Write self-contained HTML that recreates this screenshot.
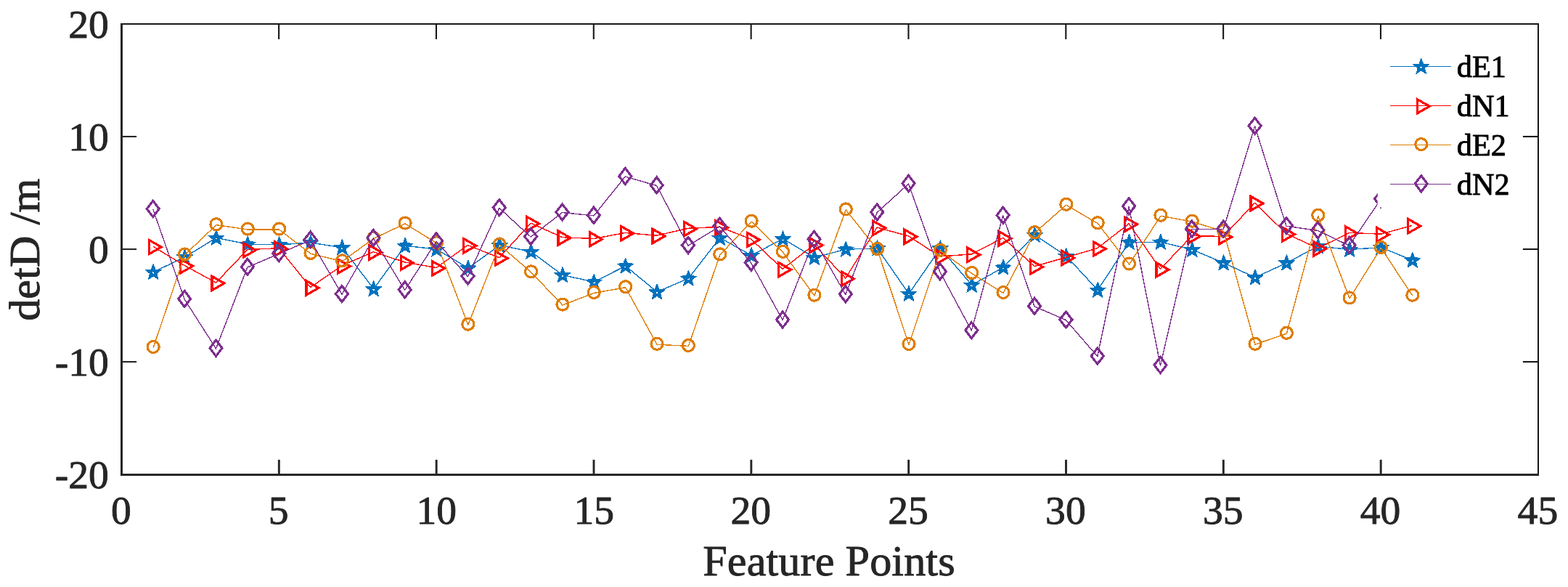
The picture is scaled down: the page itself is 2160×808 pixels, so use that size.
<!DOCTYPE html>
<html lang="en">
<head>
<meta charset="utf-8">
<title>Feature Points - detD /m</title>
<style>
html,body{margin:0;padding:0;background:#fff;}
body{width:2160px;height:808px;overflow:hidden;}
svg{display:block;}
text{font-family:"Liberation Serif","Times New Roman",Times,serif;}
.tick{font-size:55.6px;fill:#262626;stroke:#262626;stroke-width:0.9px;stroke-linejoin:round;}
.lab{font-size:60.2px;fill:#262626;stroke:#262626;stroke-width:0.9px;stroke-linejoin:round;letter-spacing:0.1px;}
.leg{font-size:42.3px;fill:#000;stroke:#000;stroke-width:0.9px;stroke-linejoin:round;}
</style>
</head>
<body>
<svg width="2160" height="808" viewBox="0 0 2160 808">
<rect x="0" y="0" width="2160" height="808" fill="#fff"/>
<g id="data">
<g id="dE1"><path d="M211.17 374.45 L254.53 353.99 L297.90 327.33 L341.27 336.16 L384.63 336.78 L428.00 334.15 L471.37 340.66 L514.73 397.70 L558.10 338.18 L601.47 343.14 L644.83 369.02 L688.20 337.71 L731.57 346.39 L774.93 378.63 L818.30 388.09 L861.67 366.08 L905.03 401.88 L948.40 383.13 L991.77 327.33 L1035.13 351.51 L1078.50 328.72 L1121.87 354.45 L1165.23 343.14 L1208.60 341.90 L1251.97 404.37 L1295.33 341.90 L1338.70 392.27 L1382.07 368.09 L1425.43 323.30 L1468.80 352.44 L1512.17 399.25 L1555.53 333.22 L1598.90 333.22 L1642.27 343.60 L1685.63 361.89 L1729.00 381.89 L1772.37 361.89 L1815.73 338.95 L1859.10 343.45 L1902.47 340.66 L1945.83 358.17" fill="none" stroke="#0072BD" stroke-width="1.4" stroke-linejoin="round" shape-rendering="crispEdges"/><path d="M211.17 363.45 L214.05 371.09 L222.20 371.47 L215.83 376.56 L217.98 384.43 L211.17 379.95 L204.35 384.43 L206.51 376.56 L200.13 371.47 L208.29 371.09 Z M209.27 375.25 a1.9 1.9 0 1 0 3.8 0 a1.9 1.9 0 1 0 -3.8 0 Z M254.53 342.99 L257.41 350.63 L265.57 351.01 L259.19 356.10 L261.35 363.97 L254.53 359.49 L247.72 363.97 L249.87 356.10 L243.50 351.01 L251.65 350.63 Z M252.63 354.79 a1.9 1.9 0 1 0 3.8 0 a1.9 1.9 0 1 0 -3.8 0 Z M297.90 316.33 L300.78 323.97 L308.93 324.35 L302.56 329.44 L304.72 337.31 L297.90 332.83 L291.08 337.31 L293.24 329.44 L286.87 324.35 L295.02 323.97 Z M296.00 328.13 a1.9 1.9 0 1 0 3.8 0 a1.9 1.9 0 1 0 -3.8 0 Z M341.27 325.16 L344.15 332.80 L352.30 333.18 L345.93 338.28 L348.08 346.15 L341.27 341.66 L334.45 346.15 L336.61 338.28 L330.23 333.18 L338.39 332.80 Z M339.37 336.96 a1.9 1.9 0 1 0 3.8 0 a1.9 1.9 0 1 0 -3.8 0 Z M384.63 325.78 L387.51 333.42 L395.67 333.80 L389.29 338.90 L391.45 346.77 L384.63 342.28 L377.82 346.77 L379.97 338.90 L373.60 333.80 L381.75 333.42 Z M382.73 337.58 a1.9 1.9 0 1 0 3.8 0 a1.9 1.9 0 1 0 -3.8 0 Z M428.00 323.15 L430.88 330.79 L439.03 331.17 L432.66 336.26 L434.82 344.13 L428.00 339.65 L421.18 344.13 L423.34 336.26 L416.97 331.17 L425.12 330.79 Z M426.10 334.95 a1.9 1.9 0 1 0 3.8 0 a1.9 1.9 0 1 0 -3.8 0 Z M471.37 329.66 L474.25 337.30 L482.40 337.68 L476.03 342.77 L478.18 350.64 L471.37 346.16 L464.55 350.64 L466.71 342.77 L460.33 337.68 L468.49 337.30 Z M469.47 341.46 a1.9 1.9 0 1 0 3.8 0 a1.9 1.9 0 1 0 -3.8 0 Z M514.73 386.70 L517.61 394.34 L525.77 394.72 L519.39 399.81 L521.55 407.68 L514.73 403.20 L507.92 407.68 L510.07 399.81 L503.70 394.72 L511.85 394.34 Z M512.83 398.50 a1.9 1.9 0 1 0 3.8 0 a1.9 1.9 0 1 0 -3.8 0 Z M558.10 327.18 L560.98 334.82 L569.13 335.20 L562.76 340.29 L564.92 348.16 L558.10 343.68 L551.28 348.16 L553.44 340.29 L547.07 335.20 L555.22 334.82 Z M556.20 338.98 a1.9 1.9 0 1 0 3.8 0 a1.9 1.9 0 1 0 -3.8 0 Z M601.47 332.14 L604.35 339.78 L612.50 340.16 L606.13 345.25 L608.28 353.12 L601.47 348.64 L594.65 353.12 L596.81 345.25 L590.43 340.16 L598.59 339.78 Z M599.57 343.94 a1.9 1.9 0 1 0 3.8 0 a1.9 1.9 0 1 0 -3.8 0 Z M644.83 358.02 L647.71 365.66 L655.87 366.04 L649.49 371.14 L651.65 379.01 L644.83 374.52 L638.02 379.01 L640.17 371.14 L633.80 366.04 L641.95 365.66 Z M642.93 369.82 a1.9 1.9 0 1 0 3.8 0 a1.9 1.9 0 1 0 -3.8 0 Z M688.20 326.71 L691.08 334.35 L699.23 334.73 L692.86 339.83 L695.02 347.70 L688.20 343.21 L681.38 347.70 L683.54 339.83 L677.17 334.73 L685.32 334.35 Z M686.30 338.51 a1.9 1.9 0 1 0 3.8 0 a1.9 1.9 0 1 0 -3.8 0 Z M731.57 335.39 L734.45 343.03 L742.60 343.41 L736.23 348.51 L738.38 356.38 L731.57 351.89 L724.75 356.38 L726.91 348.51 L720.53 343.41 L728.69 343.03 Z M729.67 347.19 a1.9 1.9 0 1 0 3.8 0 a1.9 1.9 0 1 0 -3.8 0 Z M774.93 367.63 L777.81 375.27 L785.97 375.65 L779.59 380.75 L781.75 388.62 L774.93 384.13 L768.12 388.62 L770.27 380.75 L763.90 375.65 L772.05 375.27 Z M773.03 379.44 a1.9 1.9 0 1 0 3.8 0 a1.9 1.9 0 1 0 -3.8 0 Z M818.30 377.09 L821.18 384.73 L829.33 385.11 L822.96 390.20 L825.12 398.07 L818.30 393.59 L811.48 398.07 L813.64 390.20 L807.27 385.11 L815.42 384.73 Z M816.40 388.89 a1.9 1.9 0 1 0 3.8 0 a1.9 1.9 0 1 0 -3.8 0 Z M861.67 355.08 L864.55 362.72 L872.70 363.10 L866.33 368.19 L868.48 376.06 L861.67 371.58 L854.85 376.06 L857.01 368.19 L850.63 363.10 L858.79 362.72 Z M859.77 366.88 a1.9 1.9 0 1 0 3.8 0 a1.9 1.9 0 1 0 -3.8 0 Z M905.03 390.88 L907.91 398.52 L916.07 398.90 L909.69 404.00 L911.85 411.87 L905.03 407.38 L898.22 411.87 L900.37 404.00 L894.00 398.90 L902.15 398.52 Z M903.13 402.69 a1.9 1.9 0 1 0 3.8 0 a1.9 1.9 0 1 0 -3.8 0 Z M948.40 372.13 L951.28 379.77 L959.43 380.15 L953.06 385.24 L955.22 393.11 L948.40 388.63 L941.58 393.11 L943.74 385.24 L937.37 380.15 L945.52 379.77 Z M946.50 383.93 a1.9 1.9 0 1 0 3.8 0 a1.9 1.9 0 1 0 -3.8 0 Z M991.77 316.33 L994.65 323.97 L1002.80 324.35 L996.43 329.44 L998.58 337.31 L991.77 332.83 L984.95 337.31 L987.11 329.44 L980.73 324.35 L988.89 323.97 Z M989.87 328.13 a1.9 1.9 0 1 0 3.8 0 a1.9 1.9 0 1 0 -3.8 0 Z M1035.13 340.51 L1038.01 348.15 L1046.17 348.53 L1039.79 353.62 L1041.95 361.49 L1035.13 357.01 L1028.32 361.49 L1030.47 353.62 L1024.10 348.53 L1032.25 348.15 Z M1033.23 352.31 a1.9 1.9 0 1 0 3.8 0 a1.9 1.9 0 1 0 -3.8 0 Z M1078.50 317.72 L1081.38 325.36 L1089.53 325.74 L1083.16 330.84 L1085.32 338.71 L1078.50 334.22 L1071.68 338.71 L1073.84 330.84 L1067.47 325.74 L1075.62 325.36 Z M1076.60 329.52 a1.9 1.9 0 1 0 3.8 0 a1.9 1.9 0 1 0 -3.8 0 Z M1121.87 343.45 L1124.75 351.09 L1132.90 351.47 L1126.53 356.57 L1128.68 364.44 L1121.87 359.95 L1115.05 364.44 L1117.21 356.57 L1110.83 351.47 L1118.99 351.09 Z M1119.97 355.25 a1.9 1.9 0 1 0 3.8 0 a1.9 1.9 0 1 0 -3.8 0 Z M1165.23 332.14 L1168.11 339.78 L1176.27 340.16 L1169.89 345.25 L1172.05 353.12 L1165.23 348.64 L1158.42 353.12 L1160.57 345.25 L1154.20 340.16 L1162.35 339.78 Z M1163.33 343.94 a1.9 1.9 0 1 0 3.8 0 a1.9 1.9 0 1 0 -3.8 0 Z M1208.60 330.90 L1211.48 338.54 L1219.63 338.92 L1213.26 344.01 L1215.42 351.88 L1208.60 347.40 L1201.78 351.88 L1203.94 344.01 L1197.57 338.92 L1205.72 338.54 Z M1206.70 342.70 a1.9 1.9 0 1 0 3.8 0 a1.9 1.9 0 1 0 -3.8 0 Z M1251.97 393.37 L1254.85 401.00 L1263.00 401.38 L1256.63 406.48 L1258.78 414.35 L1251.97 409.87 L1245.15 414.35 L1247.31 406.48 L1240.93 401.38 L1249.09 401.00 Z M1250.07 405.17 a1.9 1.9 0 1 0 3.8 0 a1.9 1.9 0 1 0 -3.8 0 Z M1295.33 330.90 L1298.21 338.54 L1306.37 338.92 L1299.99 344.01 L1302.15 351.88 L1295.33 347.40 L1288.52 351.88 L1290.67 344.01 L1284.30 338.92 L1292.45 338.54 Z M1293.43 342.70 a1.9 1.9 0 1 0 3.8 0 a1.9 1.9 0 1 0 -3.8 0 Z M1338.70 381.27 L1341.58 388.91 L1349.73 389.29 L1343.36 394.39 L1345.52 402.26 L1338.70 397.77 L1331.88 402.26 L1334.04 394.39 L1327.67 389.29 L1335.82 388.91 Z M1336.80 393.07 a1.9 1.9 0 1 0 3.8 0 a1.9 1.9 0 1 0 -3.8 0 Z M1382.07 357.09 L1384.95 364.73 L1393.10 365.11 L1386.73 370.21 L1388.88 378.08 L1382.07 373.59 L1375.25 378.08 L1377.41 370.21 L1371.03 365.11 L1379.19 364.73 Z M1380.17 368.89 a1.9 1.9 0 1 0 3.8 0 a1.9 1.9 0 1 0 -3.8 0 Z M1425.43 312.30 L1428.31 319.94 L1436.47 320.32 L1430.09 325.41 L1432.25 333.28 L1425.43 328.80 L1418.62 333.28 L1420.77 325.41 L1414.40 320.32 L1422.55 319.94 Z M1423.53 324.10 a1.9 1.9 0 1 0 3.8 0 a1.9 1.9 0 1 0 -3.8 0 Z M1468.80 341.44 L1471.68 349.08 L1479.83 349.46 L1473.46 354.55 L1475.62 362.42 L1468.80 357.94 L1461.98 362.42 L1464.14 354.55 L1457.77 349.46 L1465.92 349.08 Z M1466.90 353.24 a1.9 1.9 0 1 0 3.8 0 a1.9 1.9 0 1 0 -3.8 0 Z M1512.17 388.25 L1515.05 395.89 L1523.20 396.27 L1516.83 401.36 L1518.98 409.23 L1512.17 404.75 L1505.35 409.23 L1507.51 401.36 L1501.13 396.27 L1509.29 395.89 Z M1510.27 400.05 a1.9 1.9 0 1 0 3.8 0 a1.9 1.9 0 1 0 -3.8 0 Z M1555.53 322.22 L1558.41 329.86 L1566.57 330.24 L1560.19 335.33 L1562.35 343.20 L1555.53 338.72 L1548.72 343.20 L1550.87 335.33 L1544.50 330.24 L1552.65 329.86 Z M1553.63 334.02 a1.9 1.9 0 1 0 3.8 0 a1.9 1.9 0 1 0 -3.8 0 Z M1598.90 322.22 L1601.78 329.86 L1609.93 330.24 L1603.56 335.33 L1605.72 343.20 L1598.90 338.72 L1592.08 343.20 L1594.24 335.33 L1587.87 330.24 L1596.02 329.86 Z M1597.00 334.02 a1.9 1.9 0 1 0 3.8 0 a1.9 1.9 0 1 0 -3.8 0 Z M1642.27 332.60 L1645.15 340.24 L1653.30 340.62 L1646.93 345.72 L1649.08 353.59 L1642.27 349.10 L1635.45 353.59 L1637.61 345.72 L1631.23 340.62 L1639.39 340.24 Z M1640.37 344.40 a1.9 1.9 0 1 0 3.8 0 a1.9 1.9 0 1 0 -3.8 0 Z M1685.63 350.89 L1688.51 358.53 L1696.67 358.91 L1690.29 364.01 L1692.45 371.88 L1685.63 367.39 L1678.82 371.88 L1680.97 364.01 L1674.60 358.91 L1682.75 358.53 Z M1683.73 362.69 a1.9 1.9 0 1 0 3.8 0 a1.9 1.9 0 1 0 -3.8 0 Z M1729.00 370.89 L1731.88 378.53 L1740.03 378.91 L1733.66 384.00 L1735.82 391.87 L1729.00 387.39 L1722.18 391.87 L1724.34 384.00 L1717.97 378.91 L1726.12 378.53 Z M1727.10 382.69 a1.9 1.9 0 1 0 3.8 0 a1.9 1.9 0 1 0 -3.8 0 Z M1772.37 350.89 L1775.25 358.53 L1783.40 358.91 L1777.03 364.01 L1779.18 371.88 L1772.37 367.39 L1765.55 371.88 L1767.71 364.01 L1761.33 358.91 L1769.49 358.53 Z M1770.47 362.69 a1.9 1.9 0 1 0 3.8 0 a1.9 1.9 0 1 0 -3.8 0 Z M1815.73 327.95 L1818.61 335.59 L1826.77 335.97 L1820.39 341.07 L1822.55 348.94 L1815.73 344.45 L1808.92 348.94 L1811.07 341.07 L1804.70 335.97 L1812.85 335.59 Z M1813.83 339.75 a1.9 1.9 0 1 0 3.8 0 a1.9 1.9 0 1 0 -3.8 0 Z M1859.10 332.45 L1861.98 340.09 L1870.13 340.47 L1863.76 345.56 L1865.92 353.43 L1859.10 348.95 L1852.28 353.43 L1854.44 345.56 L1848.07 340.47 L1856.22 340.09 Z M1857.20 344.25 a1.9 1.9 0 1 0 3.8 0 a1.9 1.9 0 1 0 -3.8 0 Z M1902.47 329.66 L1905.35 337.30 L1913.50 337.68 L1907.13 342.77 L1909.28 350.64 L1902.47 346.16 L1895.65 350.64 L1897.81 342.77 L1891.43 337.68 L1899.59 337.30 Z M1900.57 341.46 a1.9 1.9 0 1 0 3.8 0 a1.9 1.9 0 1 0 -3.8 0 Z M1945.83 347.17 L1948.71 354.81 L1956.87 355.19 L1950.49 360.29 L1952.65 368.16 L1945.83 363.67 L1939.02 368.16 L1941.17 360.29 L1934.80 355.19 L1942.95 354.81 Z M1943.93 358.97 a1.9 1.9 0 1 0 3.8 0 a1.9 1.9 0 1 0 -3.8 0 Z" fill="#0072BD" fill-rule="evenodd" stroke="#0072BD" stroke-width="1" stroke-linejoin="round" shape-rendering="crispEdges"/></g>
<g id="dN1"><path d="M210.77 339.22 L254.13 365.41 L297.50 389.13 L340.87 343.56 L384.23 341.70 L427.60 395.49 L470.97 365.72 L514.33 346.66 L557.70 360.92 L601.07 368.51 L644.43 337.51 L687.80 354.72 L731.17 307.13 L774.53 326.66 L817.90 328.52 L861.27 320.46 L904.63 324.19 L948.00 314.26 L991.37 312.40 L1034.73 329.14 L1078.10 370.38 L1121.47 336.74 L1164.83 382.93 L1208.20 313.02 L1251.57 324.96 L1294.93 353.01 L1338.30 349.91 L1381.67 327.44 L1425.03 366.65 L1468.40 354.25 L1511.77 341.70 L1555.13 307.91 L1598.50 370.38 L1641.87 324.65 L1685.23 325.43 L1728.60 279.23 L1771.97 321.70 L1815.33 341.70 L1858.70 320.46 L1902.07 322.17 L1945.43 310.39" fill="none" stroke="#FF0000" stroke-width="1.4" stroke-linejoin="round" shape-rendering="crispEdges"/><path d="M222.17 340.02 L205.17 330.32 L205.17 349.72 Z M265.53 366.21 L248.53 356.51 L248.53 375.91 Z M308.90 389.93 L291.90 380.23 L291.90 399.63 Z M352.27 344.36 L335.27 334.66 L335.27 354.06 Z M395.63 342.50 L378.63 332.80 L378.63 352.20 Z M439.00 396.29 L422.00 386.59 L422.00 405.99 Z M482.37 366.52 L465.37 356.82 L465.37 376.22 Z M525.73 347.46 L508.73 337.76 L508.73 357.16 Z M569.10 361.72 L552.10 352.02 L552.10 371.42 Z M612.47 369.31 L595.47 359.62 L595.47 379.01 Z M655.83 338.31 L638.83 328.62 L638.83 348.01 Z M699.20 355.52 L682.20 345.82 L682.20 365.22 Z M742.57 307.94 L725.57 298.24 L725.57 317.63 Z M785.93 327.46 L768.93 317.76 L768.93 337.16 Z M829.30 329.32 L812.30 319.62 L812.30 339.02 Z M872.67 321.26 L855.67 311.56 L855.67 330.96 Z M916.03 324.99 L899.03 315.29 L899.03 334.69 Z M959.40 315.06 L942.40 305.37 L942.40 324.76 Z M1002.77 313.20 L985.77 303.50 L985.77 322.90 Z M1046.13 329.94 L1029.13 320.25 L1029.13 339.64 Z M1089.50 371.18 L1072.50 361.48 L1072.50 380.88 Z M1132.87 337.54 L1115.87 327.84 L1115.87 347.24 Z M1176.23 383.73 L1159.23 374.03 L1159.23 393.43 Z M1219.60 313.82 L1202.60 304.12 L1202.60 323.52 Z M1262.97 325.76 L1245.97 316.06 L1245.97 335.46 Z M1306.33 353.81 L1289.33 344.12 L1289.33 363.51 Z M1349.70 350.71 L1332.70 341.01 L1332.70 360.41 Z M1393.07 328.24 L1376.07 318.54 L1376.07 337.94 Z M1436.43 367.45 L1419.43 357.75 L1419.43 377.15 Z M1479.80 355.06 L1462.80 345.36 L1462.80 364.75 Z M1523.17 342.50 L1506.17 332.80 L1506.17 352.20 Z M1566.53 308.71 L1549.53 299.01 L1549.53 318.41 Z M1609.90 371.18 L1592.90 361.48 L1592.90 380.88 Z M1653.27 325.45 L1636.27 315.75 L1636.27 335.15 Z M1696.63 326.23 L1679.63 316.53 L1679.63 335.93 Z M1740.00 280.03 L1723.00 270.33 L1723.00 289.73 Z M1783.37 322.50 L1766.37 312.81 L1766.37 332.20 Z M1826.73 342.50 L1809.73 332.80 L1809.73 352.20 Z M1870.10 321.26 L1853.10 311.56 L1853.10 330.96 Z M1913.47 322.97 L1896.47 313.27 L1896.47 332.67 Z M1956.83 311.19 L1939.83 301.49 L1939.83 320.89 Z" fill="none" stroke="#FF0000" stroke-width="3.2" stroke-linejoin="miter" shape-rendering="crispEdges"/></g>
<g id="dE2"><path d="M211.17 478.40 L254.53 350.84 L297.90 309.61 L341.27 315.96 L384.63 315.96 L428.00 349.29 L471.37 359.67 L514.73 328.36 L558.10 307.90 L601.47 334.72 L644.83 447.09 L688.20 337.20 L731.57 374.71 L774.93 419.97 L818.30 403.38 L861.67 395.63 L905.03 474.22 L948.40 476.39 L991.77 350.84 L1035.13 305.11 L1078.50 347.27 L1121.87 407.10 L1165.23 288.84 L1208.60 343.40 L1251.97 474.38 L1295.33 345.10 L1338.70 376.41 L1382.07 403.38 L1425.43 320.46 L1468.80 282.17 L1512.17 307.59 L1555.53 363.86 L1598.90 297.21 L1642.27 305.11 L1685.63 318.60 L1729.00 474.22 L1772.37 459.18 L1815.73 297.21 L1859.10 410.82 L1902.47 341.38 L1945.83 407.10" fill="none" stroke="#DE7D00" stroke-width="1.4" stroke-linejoin="round" shape-rendering="crispEdges"/><path d="M203.17 477.50 a8.0 8.0 0 1 0 16.0 0 a8.0 8.0 0 1 0 -16.0 0 Z M246.53 349.94 a8.0 8.0 0 1 0 16.0 0 a8.0 8.0 0 1 0 -16.0 0 Z M289.90 308.71 a8.0 8.0 0 1 0 16.0 0 a8.0 8.0 0 1 0 -16.0 0 Z M333.27 315.06 a8.0 8.0 0 1 0 16.0 0 a8.0 8.0 0 1 0 -16.0 0 Z M376.63 315.06 a8.0 8.0 0 1 0 16.0 0 a8.0 8.0 0 1 0 -16.0 0 Z M420.00 348.39 a8.0 8.0 0 1 0 16.0 0 a8.0 8.0 0 1 0 -16.0 0 Z M463.37 358.77 a8.0 8.0 0 1 0 16.0 0 a8.0 8.0 0 1 0 -16.0 0 Z M506.73 327.46 a8.0 8.0 0 1 0 16.0 0 a8.0 8.0 0 1 0 -16.0 0 Z M550.10 307.00 a8.0 8.0 0 1 0 16.0 0 a8.0 8.0 0 1 0 -16.0 0 Z M593.47 333.82 a8.0 8.0 0 1 0 16.0 0 a8.0 8.0 0 1 0 -16.0 0 Z M636.83 446.19 a8.0 8.0 0 1 0 16.0 0 a8.0 8.0 0 1 0 -16.0 0 Z M680.20 336.30 a8.0 8.0 0 1 0 16.0 0 a8.0 8.0 0 1 0 -16.0 0 Z M723.57 373.81 a8.0 8.0 0 1 0 16.0 0 a8.0 8.0 0 1 0 -16.0 0 Z M766.93 419.07 a8.0 8.0 0 1 0 16.0 0 a8.0 8.0 0 1 0 -16.0 0 Z M810.30 402.49 a8.0 8.0 0 1 0 16.0 0 a8.0 8.0 0 1 0 -16.0 0 Z M853.67 394.74 a8.0 8.0 0 1 0 16.0 0 a8.0 8.0 0 1 0 -16.0 0 Z M897.03 473.32 a8.0 8.0 0 1 0 16.0 0 a8.0 8.0 0 1 0 -16.0 0 Z M940.40 475.49 a8.0 8.0 0 1 0 16.0 0 a8.0 8.0 0 1 0 -16.0 0 Z M983.77 349.94 a8.0 8.0 0 1 0 16.0 0 a8.0 8.0 0 1 0 -16.0 0 Z M1027.13 304.21 a8.0 8.0 0 1 0 16.0 0 a8.0 8.0 0 1 0 -16.0 0 Z M1070.50 346.38 a8.0 8.0 0 1 0 16.0 0 a8.0 8.0 0 1 0 -16.0 0 Z M1113.87 406.20 a8.0 8.0 0 1 0 16.0 0 a8.0 8.0 0 1 0 -16.0 0 Z M1157.23 287.94 a8.0 8.0 0 1 0 16.0 0 a8.0 8.0 0 1 0 -16.0 0 Z M1200.60 342.50 a8.0 8.0 0 1 0 16.0 0 a8.0 8.0 0 1 0 -16.0 0 Z M1243.97 473.48 a8.0 8.0 0 1 0 16.0 0 a8.0 8.0 0 1 0 -16.0 0 Z M1287.33 344.20 a8.0 8.0 0 1 0 16.0 0 a8.0 8.0 0 1 0 -16.0 0 Z M1330.70 375.51 a8.0 8.0 0 1 0 16.0 0 a8.0 8.0 0 1 0 -16.0 0 Z M1374.07 402.49 a8.0 8.0 0 1 0 16.0 0 a8.0 8.0 0 1 0 -16.0 0 Z M1417.43 319.56 a8.0 8.0 0 1 0 16.0 0 a8.0 8.0 0 1 0 -16.0 0 Z M1460.80 281.27 a8.0 8.0 0 1 0 16.0 0 a8.0 8.0 0 1 0 -16.0 0 Z M1504.17 306.69 a8.0 8.0 0 1 0 16.0 0 a8.0 8.0 0 1 0 -16.0 0 Z M1547.53 362.96 a8.0 8.0 0 1 0 16.0 0 a8.0 8.0 0 1 0 -16.0 0 Z M1590.90 296.31 a8.0 8.0 0 1 0 16.0 0 a8.0 8.0 0 1 0 -16.0 0 Z M1634.27 304.21 a8.0 8.0 0 1 0 16.0 0 a8.0 8.0 0 1 0 -16.0 0 Z M1677.63 317.70 a8.0 8.0 0 1 0 16.0 0 a8.0 8.0 0 1 0 -16.0 0 Z M1721.00 473.32 a8.0 8.0 0 1 0 16.0 0 a8.0 8.0 0 1 0 -16.0 0 Z M1764.37 458.28 a8.0 8.0 0 1 0 16.0 0 a8.0 8.0 0 1 0 -16.0 0 Z M1807.73 296.31 a8.0 8.0 0 1 0 16.0 0 a8.0 8.0 0 1 0 -16.0 0 Z M1851.10 409.93 a8.0 8.0 0 1 0 16.0 0 a8.0 8.0 0 1 0 -16.0 0 Z M1894.47 340.49 a8.0 8.0 0 1 0 16.0 0 a8.0 8.0 0 1 0 -16.0 0 Z M1937.83 406.20 a8.0 8.0 0 1 0 16.0 0 a8.0 8.0 0 1 0 -16.0 0 Z" fill="none" stroke="#DE7D00" stroke-width="3.2" stroke-linejoin="miter" shape-rendering="crispEdges"/></g>
<g id="dN2"><path d="M210.77 288.08 L254.13 411.92 L297.50 479.81 L340.87 367.90 L384.23 349.30 L427.60 330.55 L470.97 405.10 L514.33 328.06 L557.70 399.37 L601.07 332.41 L644.43 380.61 L687.80 286.37 L731.17 326.05 L774.53 292.57 L817.90 296.91 L861.27 243.12 L904.63 255.53 L948.00 338.14 L991.37 311.79 L1034.73 361.86 L1078.10 440.60 L1121.47 329.93 L1164.83 405.41 L1208.20 292.57 L1251.57 253.04 L1294.93 374.41 L1338.30 455.17 L1381.67 296.91 L1425.03 421.84 L1468.40 440.60 L1511.77 490.66 L1555.13 284.36 L1598.50 503.06 L1641.87 315.67 L1685.23 315.67 L1728.60 173.84 L1771.97 311.17 L1815.33 317.37 L1858.70 338.14 L1902.07 274.28" fill="none" stroke="#7E2F8E" stroke-width="1.4" stroke-linejoin="round" shape-rendering="crispEdges"/><path d="M210.77 276.48 L219.27 287.48 L210.77 298.48 L202.27 287.48 Z M254.13 400.32 L262.63 411.32 L254.13 422.32 L245.63 411.32 Z M297.50 468.21 L306.00 479.21 L297.50 490.21 L289.00 479.21 Z M340.87 356.30 L349.37 367.30 L340.87 378.30 L332.37 367.30 Z M384.23 337.70 L392.73 348.70 L384.23 359.70 L375.73 348.70 Z M427.60 318.94 L436.10 329.94 L427.60 340.94 L419.10 329.94 Z M470.97 393.50 L479.47 404.50 L470.97 415.50 L462.47 404.50 Z M514.33 316.46 L522.83 327.46 L514.33 338.46 L505.83 327.46 Z M557.70 387.76 L566.20 398.76 L557.70 409.76 L549.20 398.76 Z M601.07 320.81 L609.57 331.81 L601.07 342.81 L592.57 331.81 Z M644.43 369.01 L652.93 380.01 L644.43 391.01 L635.93 380.01 Z M687.80 274.77 L696.30 285.77 L687.80 296.77 L679.30 285.77 Z M731.17 314.45 L739.67 325.45 L731.17 336.45 L722.67 325.45 Z M774.53 280.97 L783.03 291.97 L774.53 302.97 L766.03 291.97 Z M817.90 285.31 L826.40 296.31 L817.90 307.31 L809.40 296.31 Z M861.27 231.52 L869.77 242.52 L861.27 253.52 L852.77 242.52 Z M904.63 243.93 L913.13 254.93 L904.63 265.93 L896.13 254.93 Z M948.00 326.54 L956.50 337.54 L948.00 348.54 L939.50 337.54 Z M991.37 300.19 L999.87 311.19 L991.37 322.19 L982.87 311.19 Z M1034.73 350.25 L1043.23 361.25 L1034.73 372.25 L1026.23 361.25 Z M1078.10 429.00 L1086.60 440.00 L1078.10 451.00 L1069.60 440.00 Z M1121.47 318.32 L1129.97 329.32 L1121.47 340.32 L1112.97 329.32 Z M1164.83 393.81 L1173.33 404.81 L1164.83 415.81 L1156.33 404.81 Z M1208.20 280.97 L1216.70 291.97 L1208.20 302.97 L1199.70 291.97 Z M1251.57 241.44 L1260.07 252.44 L1251.57 263.44 L1243.07 252.44 Z M1294.93 362.81 L1303.43 373.81 L1294.93 384.81 L1286.43 373.81 Z M1338.30 443.56 L1346.80 454.56 L1338.30 465.56 L1329.80 454.56 Z M1381.67 285.31 L1390.17 296.31 L1381.67 307.31 L1373.17 296.31 Z M1425.03 410.24 L1433.53 421.24 L1425.03 432.24 L1416.53 421.24 Z M1468.40 429.00 L1476.90 440.00 L1468.40 451.00 L1459.90 440.00 Z M1511.77 479.06 L1520.27 490.06 L1511.77 501.06 L1503.27 490.06 Z M1555.13 272.75 L1563.63 283.75 L1555.13 294.75 L1546.63 283.75 Z M1598.50 491.46 L1607.00 502.46 L1598.50 513.46 L1590.00 502.46 Z M1641.87 304.06 L1650.37 315.06 L1641.87 326.06 L1633.37 315.06 Z M1685.23 304.06 L1693.73 315.06 L1685.23 326.06 L1676.73 315.06 Z M1728.60 162.24 L1737.10 173.24 L1728.60 184.24 L1720.10 173.24 Z M1771.97 299.57 L1780.47 310.57 L1771.97 321.57 L1763.47 310.57 Z M1815.33 305.77 L1823.83 316.77 L1815.33 327.77 L1806.83 316.77 Z M1858.70 326.54 L1867.20 337.54 L1858.70 348.54 L1850.20 337.54 Z M1902.07 262.68 L1910.57 273.68 L1902.07 284.68 L1893.57 273.68 Z" fill="none" stroke="#7E2F8E" stroke-width="3.2" stroke-linejoin="miter" shape-rendering="crispEdges"/></g>
</g>
<rect x="1897.7" y="60" width="198.29999999999995" height="225.5" fill="#fff"/>
<path d="M1915 91.5 L1999 91.5" stroke="#0072BD" stroke-width="1.4" fill="none" shape-rendering="crispEdges"/><path d="M1957.80 80.50 L1960.68 88.14 L1968.83 88.52 L1962.46 93.61 L1964.62 101.48 L1957.80 97.00 L1950.98 101.48 L1953.14 93.61 L1946.77 88.52 L1954.92 88.14 Z M1955.90 92.30 a1.9 1.9 0 1 0 3.8 0 a1.9 1.9 0 1 0 -3.8 0 Z" fill="#0072BD" fill-rule="evenodd" stroke="#0072BD" stroke-width="1" stroke-linejoin="round" shape-rendering="crispEdges"/><text class="leg" x="2006.8" y="106.2">dE1</text>
<path d="M1915 145.5 L1999 145.5" stroke="#FF0000" stroke-width="1.4" fill="none" shape-rendering="crispEdges"/><path d="M1969.20 146.30 L1952.20 136.60 L1952.20 156.00 Z" fill="none" stroke="#FF0000" stroke-width="3.2" stroke-linejoin="miter" shape-rendering="crispEdges"/><text class="leg" x="2006.8" y="160.2">dN1</text>
<path d="M1915 199.5 L1999 199.5" stroke="#DE7D00" stroke-width="1.4" fill="none" shape-rendering="crispEdges"/><path d="M1949.80 198.60 a8.0 8.0 0 1 0 16.0 0 a8.0 8.0 0 1 0 -16.0 0 Z" fill="none" stroke="#DE7D00" stroke-width="3.2" stroke-linejoin="miter" shape-rendering="crispEdges"/><text class="leg" x="2006.8" y="214.2">dE2</text>
<path d="M1915 253.5 L1999 253.5" stroke="#7E2F8E" stroke-width="1.4" fill="none" shape-rendering="crispEdges"/><path d="M1957.80 241.90 L1966.30 252.90 L1957.80 263.90 L1949.30 252.90 Z" fill="none" stroke="#7E2F8E" stroke-width="3.2" stroke-linejoin="miter" shape-rendering="crispEdges"/><text class="leg" x="2006.8" y="268.2">dN2</text>
<g id="axes">
<rect x="166.00" y="32.00" width="1954.00" height="2.00" fill="#181818"/><rect x="2118.00" y="32.00" width="2.00" height="623.00" fill="#181818"/><rect x="382.88" y="632.80" width="2.90" height="20.70" fill="#262626"/><rect x="383.08" y="33.00" width="2.10" height="21.00" fill="#181818"/><rect x="599.72" y="632.80" width="2.90" height="20.70" fill="#262626"/><rect x="599.92" y="33.00" width="2.10" height="21.00" fill="#181818"/><rect x="816.55" y="632.80" width="2.90" height="20.70" fill="#262626"/><rect x="816.75" y="33.00" width="2.10" height="21.00" fill="#181818"/><rect x="1033.38" y="632.80" width="2.90" height="20.70" fill="#262626"/><rect x="1033.58" y="33.00" width="2.10" height="21.00" fill="#181818"/><rect x="1250.22" y="632.80" width="2.90" height="20.70" fill="#262626"/><rect x="1250.42" y="33.00" width="2.10" height="21.00" fill="#181818"/><rect x="1467.05" y="632.80" width="2.90" height="20.70" fill="#262626"/><rect x="1467.25" y="33.00" width="2.10" height="21.00" fill="#181818"/><rect x="1683.88" y="632.80" width="2.90" height="20.70" fill="#262626"/><rect x="1684.08" y="33.00" width="2.10" height="21.00" fill="#181818"/><rect x="1900.72" y="632.80" width="2.90" height="20.70" fill="#262626"/><rect x="1900.92" y="33.00" width="2.10" height="21.00" fill="#181818"/><rect x="167.50" y="186.96" width="20.60" height="2.10" fill="#262626"/><rect x="2097.90" y="186.96" width="21.10" height="2.10" fill="#181818"/><rect x="167.50" y="341.97" width="20.60" height="2.10" fill="#262626"/><rect x="2097.90" y="341.97" width="21.10" height="2.10" fill="#181818"/><rect x="167.50" y="496.99" width="20.60" height="2.10" fill="#262626"/><rect x="2097.90" y="496.99" width="21.10" height="2.10" fill="#181818"/><rect x="166.00" y="32.00" width="3.00" height="623.00" fill="#262626"/><rect x="166.00" y="652.00" width="1954.00" height="3.00" fill="#262626"/></g>
<text class="tick" text-anchor="middle" x="166.90" y="720.5">0</text><text class="tick" text-anchor="middle" x="383.73" y="720.5">5</text><text class="tick" text-anchor="middle" x="601.37" y="720.5">10</text><text class="tick" text-anchor="middle" x="818.20" y="720.5">15</text><text class="tick" text-anchor="middle" x="1034.23" y="720.5">20</text><text class="tick" text-anchor="middle" x="1251.07" y="720.5">25</text><text class="tick" text-anchor="middle" x="1467.90" y="720.5">30</text><text class="tick" text-anchor="middle" x="1684.73" y="720.5">35</text><text class="tick" text-anchor="middle" x="1901.57" y="720.5">40</text><text class="tick" text-anchor="middle" x="2118.40" y="720.5">45</text>
<text class="tick" text-anchor="end" x="149.8" y="51.80">20</text><text class="tick" text-anchor="end" x="149.8" y="206.80">10</text><text class="tick" text-anchor="end" x="149.8" y="361.80">0</text><text class="tick" text-anchor="end" x="149.8" y="516.80">-10</text><text class="tick" text-anchor="end" x="149.8" y="671.80">-20</text>
<text class="lab" text-anchor="middle" x="1142.0" y="792.1">Feature Points</text>
<text class="lab" text-anchor="middle" transform="translate(54.4 343.7) rotate(-90)">detD /m</text>
</svg>
</body>
</html>
